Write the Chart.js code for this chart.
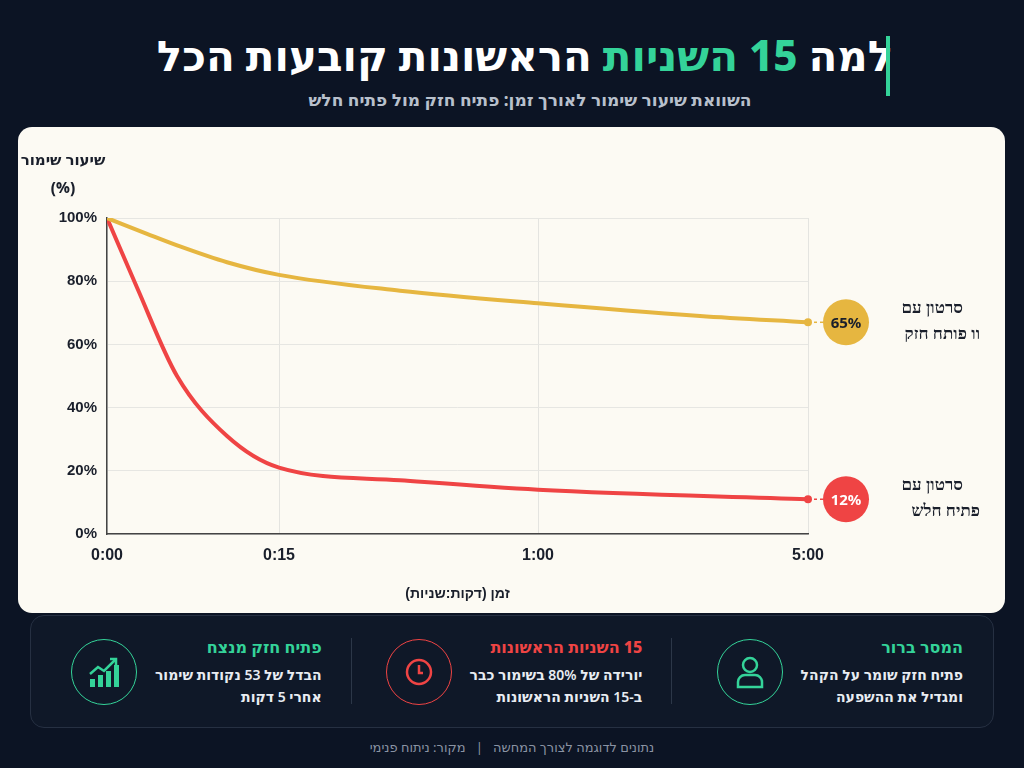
<!DOCTYPE html>
<html lang="he" dir="rtl">
<head>
<meta charset="utf-8">
<script src="https://cdn.jsdelivr.net/npm/chart.js@4/dist/chart.umd.min.js"></script>
<style>
  body { margin:0; width:1024px; height:768px; background:#0c1424; font-family:"Noto Sans","DejaVu Sans",sans-serif; color:#fff; position:relative; overflow:hidden; }
  .title { position:absolute; top:26px; left:0; width:1050px; text-align:center; font-size:42px; font-weight:800; }
  .title span { color:#34d399; }
  .bar { position:absolute; left:886px; top:36px; width:4px; height:60px; background:#34d399; }
  .sub { position:absolute; top:88px; left:0; width:1060px; text-align:center; font-size:17px; font-weight:700; color:#b8c0cc; }
  .card { position:absolute; left:18px; top:127px; width:987px; height:486px; background:#fcfaf3; border-radius:14px; }
  .card canvas { position:absolute; left:0; top:0; }
  .ytitle { position:absolute; left:0; top:18px; width:90px; text-align:center; color:#1a1f2b; font-weight:800; font-size:15px; line-height:28px; white-space:nowrap; }
  .panel { position:absolute; left:30px; top:615px; width:962px; height:111px; border:1px solid #263042; border-radius:14px; background:#0f1828; display:flex; direction:rtl; }
  .item { flex:1; display:flex; align-items:center; padding:0 30px; gap:18px; position:relative; }
  .item + .item:before { content:""; position:absolute; right:0; top:22px; height:66px; width:1px; background:#2c3748; }
  .ic { width:64px; height:64px; border-radius:50%; border:1.5px solid; display:flex; align-items:center; justify-content:center; flex:none; }
  .item h4 { margin:0 0 6px; font-size:16px; font-weight:800; }
  .item p { margin:0; font-size:14px; line-height:22px; font-weight:600; color:#e8ecf2; }
  .foot { position:absolute; top:738px; left:0; width:1024px; text-align:center; font-size:13px; color:#8a93a3; }
</style>
</head>
<body>
<div class="title">למה <span>15 השניות</span> הראשונות קובעות הכל</div>
<div class="bar"></div>
<div class="sub">השוואת שיעור שימור לאורך זמן: פתיח חזק מול פתיח חלש</div>
<div class="card">
  <canvas id="c" width="987" height="486"></canvas>
  <div class="ytitle">שיעור שימור<br>(%)</div>
</div>
<div class="panel">
  <div class="item">
    <div><h4 style="color:#34d399">המסר ברור</h4><p>פתיח חזק שומר על הקהל<br>ומגדיל את ההשפעה</p></div>
    <div class="ic" style="border-color:#34d399">
      <svg width="30" height="34" viewBox="0 0 30 34" fill="none" stroke="#34d399" stroke-width="2.5"><circle cx="15" cy="10" r="7"/><path d="M3 32v-5a7 7 0 0 1 7-7h10a7 7 0 0 1 7 7v5z"/></svg>
    </div>
  </div>
  <div class="item">
    <div><h4 style="color:#ef4444">15 השניות הראשונות</h4><p>יורידה של 80% בשימור כבר<br>ב-15 השניות הראשונות</p></div>
    <div class="ic" style="border-color:#ef4444">
      <svg width="30" height="30" viewBox="0 0 30 30" fill="none" stroke="#ef4444" stroke-width="2.5"><circle cx="15" cy="15" r="12"/><path d="M15 8v8h4"/></svg>
    </div>
  </div>
  <div class="item">
    <div><h4 style="color:#34d399">פתיח חזק מנצח</h4><p>הבדל של 53 נקודות שימור<br>אחרי 5 דקות</p></div>
    <div class="ic" style="border-color:#34d399">
      <svg width="34" height="34" viewBox="0 0 34 34" fill="#34d399" stroke="#34d399" stroke-width="2.5"><rect x="3" y="24" width="5" height="8" stroke="none"/><rect x="11" y="20" width="5" height="12" stroke="none"/><rect x="19" y="16" width="5" height="16" stroke="none"/><rect x="27" y="10" width="5" height="22" stroke="none"/><path d="M3 19l8-7 6 4 12-12" fill="none"/><path d="M23 4h6v6" fill="none"/></svg>
    </div>
  </div>
</div>
<div class="foot">נתונים לדוגמה לצורך המחשה &nbsp;&nbsp;|&nbsp;&nbsp; מקור: ניתוח פנימי</div>

<script>
// x positions on the chart's time axis (uneven time scale), with tick labels
const tickPos = [0, 172, 431, 701];
const tickLabels = ["0:00", "0:15", "1:00", "5:00"];

const strongX = [0, 40, 73, 120, 172, 293, 431, 593, 701];
const strongY = [100, 95, 91, 86, 82, 77, 73, 69, 67];
const weakX = [0, 30, 70, 120, 172, 293, 431, 701];
const weakY = [100, 78, 50, 31, 21, 17, 14, 11];
const endLabels = ["65%", "12%"];
const seriesNames = [["סרטון עם", "וו פותח חזק"], ["סרטון עם", "פתיח חלש"]];
const colors = ["#e6b640", "#ef4444"];

const toPts = (xs, ys) => xs.map((x, i) => ({ x, y: ys[i] }));

const endBadges = {
  id: "endBadges",
  afterDatasetsDraw(chart) {
    const ctx = chart.ctx;
    chart.data.datasets.forEach((ds, i) => {
      const last = chart.getDatasetMeta(i).data.at(-1);
      const cx = last.x + 38;
      ctx.save();
      ctx.strokeStyle = colors[i];
      ctx.lineWidth = 1.5;
      ctx.setLineDash([3, 3]);
      ctx.beginPath(); ctx.moveTo(last.x, last.y); ctx.lineTo(cx - 22, last.y); ctx.stroke();
      ctx.setLineDash([]);
      ctx.fillStyle = colors[i];
      ctx.beginPath(); ctx.arc(last.x, last.y, 4, 0, Math.PI * 2); ctx.fill();
      ctx.beginPath(); ctx.arc(cx, last.y, 23, 0, Math.PI * 2); ctx.fill();
      ctx.fillStyle = i === 0 ? "#1a1f2b" : "#fff";
      ctx.font = "bold 15px 'Noto Sans'";
      ctx.textAlign = "center"; ctx.textBaseline = "middle";
      ctx.fillText(endLabels[i], cx, last.y + 1);
      ctx.fillStyle = "#1a1f2b";
      ctx.font = "bold 17px 'Noto Sans'";
      ctx.direction = "rtl";
      ctx.textAlign = "right";
      ctx.fillText(seriesNames[i][0], 945, last.y - 14);
      ctx.fillText(seriesNames[i][1], 962, last.y + 12);
      ctx.restore();
    });
  }
};

new Chart(document.getElementById("c"), {
  type: "line",
  data: {
    datasets: [
      { data: toPts(strongX, strongY), borderColor: colors[0], borderWidth: 4, pointRadius: 0, cubicInterpolationMode: "monotone" },
      { data: toPts(weakX, weakY), borderColor: colors[1], borderWidth: 4, pointRadius: 0, cubicInterpolationMode: "monotone" }
    ]
  },
  options: {
    responsive: false,
    animation: false,
    layout: { padding: { top: 91, right: 197, left: 0, bottom: 6 } },
    plugins: { legend: { display: false }, tooltip: { enabled: false } },
    scales: {
      x: {
        type: "linear", min: 0, max: 701,
        afterBuildTicks: s => { s.ticks = tickPos.map(v => ({ value: v })); },
        afterFit: s => { s.height = 73; },
        ticks: { callback: v => tickLabels[tickPos.indexOf(v)], color: "#1a1f2b", font: { size: 16, weight: "bold" }, padding: 12, maxRotation: 0 },
        grid: { color: "#e4e4e0", drawTicks: false },
        border: { color: "#444", width: 1.5 },
        title: { display: true, text: "זמן (דקות:שניות)", color: "#1a1f2b", font: { size: 14, weight: "bold" }, padding: { top: 8 } }
      },
      y: {
        min: 0, max: 100,
        afterFit: s => { s.width = 89; },
        ticks: { stepSize: 20, callback: v => v + "%", color: "#1a1f2b", font: { size: 15, weight: "bold" }, padding: 10 },
        grid: { color: "#e6e6e2", drawTicks: false },
        border: { color: "#444", width: 1.5 }
      }
    }
  },
  plugins: [endBadges]
});
</script>
</body>
</html>
